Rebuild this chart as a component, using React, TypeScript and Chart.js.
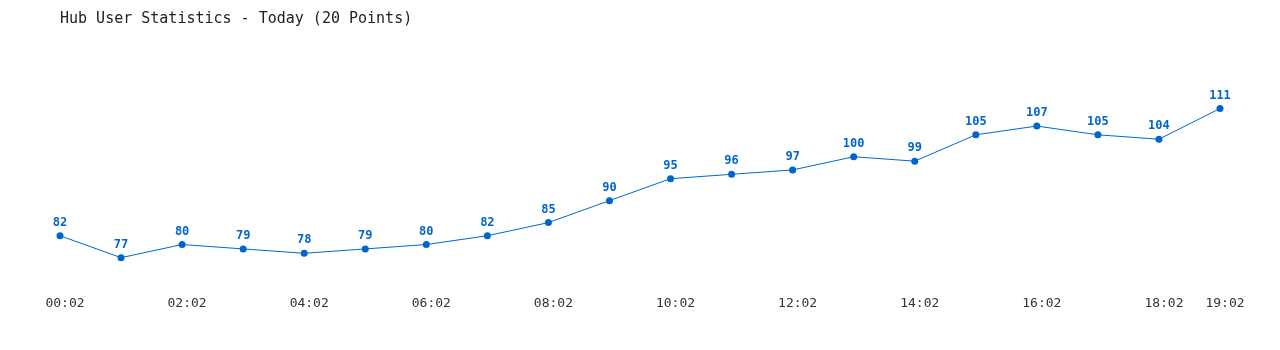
import React, { useEffect, useRef } from "react";
import { Chart, registerables } from "chart.js";

Chart.register(...registerables);

const title = "Hub User Statistics - Today (20 Points)";
const labels = [
  "00:02", "01:02", "02:02", "03:02", "04:02", "05:02", "06:02", "07:02", "08:02", "09:02",
  "10:02", "11:02", "12:02", "13:02", "14:02", "15:02", "16:02", "17:02", "18:02", "19:02",
];
const users = [82, 77, 80, 79, 78, 79, 80, 82, 85, 90, 95, 96, 97, 100, 99, 105, 107, 105, 104, 111];

const BLUE = "#0066cc";
const MONO = "'DejaVu Sans Mono', monospace";

const valueLabels = {
  id: "valueLabels",
  afterDatasetsDraw(chart: any) {
    const ctx = chart.ctx;
    const meta = chart.getDatasetMeta(0);
    const data = chart.data.datasets[0].data;
    ctx.save();
    ctx.font = `bold 12px ${MONO}`;
    ctx.fillStyle = BLUE;
    ctx.textAlign = "center";
    ctx.textBaseline = "middle";
    meta.data.forEach((pt: any, i: number) => {
      ctx.fillText(String(data[i]), pt.x, pt.y - 13);
    });
    ctx.restore();
  },
};

export default function App() {
  const ref = useRef<HTMLCanvasElement | null>(null);
  useEffect(() => {
    if (!ref.current) return;
    const chart = new Chart(ref.current, {
      type: "line",
      data: {
        labels,
        datasets: [
          {
            data: users,
            borderColor: BLUE,
            backgroundColor: BLUE,
            borderWidth: 1,
            pointRadius: 3.5,
            pointBackgroundColor: BLUE,
            pointBorderWidth: 0,
            tension: 0,
            fill: false,
          },
        ],
      },
      options: {
        animation: false,
        responsive: false,
        maintainAspectRatio: false,
        devicePixelRatio: 1,
        layout: { padding: { left: 52, right: 52, top: 0, bottom: 24 } },
        plugins: {
          legend: { display: false },
          tooltip: { enabled: false },
          title: {
            display: true,
            text: title,
            align: "start",
            color: "#222",
            font: { family: MONO, size: 15, weight: "normal" },
            padding: { top: 2, bottom: 41 },
          },
        },
        scales: {
          x: {
            offset: false,
            grid: { display: false, drawTicks: false },
            border: { display: false },
            ticks: {
              autoSkip: false,
              maxRotation: 0,
              minRotation: 0,
              padding: 7,
              labelOffset: 5,
              color: "#333",
              font: { family: MONO, size: 13 },
              callback: (_v: any, i: number) =>
                i % 2 === 0 || i === labels.length - 1 ? labels[i] : "",
            },
          },
          y: {
            display: false,
            min: 70,
            max: 120,
          },
        },
      },
      plugins: [valueLabels],
    });
    return () => chart.destroy();
  }, []);
  return (
    <div style={{ width: "1264px", height: "334px" }}>
      <canvas ref={ref} width={1264} height={334} style={{ display: "block", width: "1264px", height: "334px" }} />
    </div>
  );
}
